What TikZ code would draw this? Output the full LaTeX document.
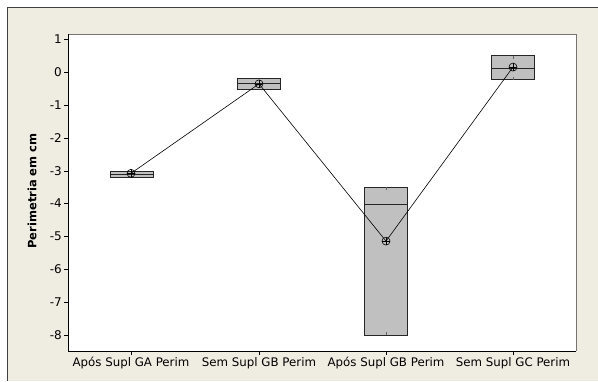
\documentclass[tikz,border=0pt]{standalone}
\usepackage{fontspec}
\setmainfont{DejaVu Sans}
\usepackage{tikz}
\definecolor{framebg}{RGB}{239,236,226}
\definecolor{boxgray}{RGB}{192,192,192}

\begin{document}
\begin{tikzpicture}[x=1pt,y=-1pt,
    boxst/.style={draw=black!85,fill=boxgray,line width=0.8pt},
    meanst/.style={circle,draw,line width=0.6pt,minimum size=8pt,inner sep=0pt,
      path picture={\draw[line width=0.6pt] (path picture bounding box.north) -- (path picture bounding box.south)
        (path picture bounding box.west) -- (path picture bounding box.east);}},
    ylab/.style={anchor=east,font=\fontsize{12}{12}\selectfont,inner sep=1pt},
    xlab/.style={anchor=north,font=\fontsize{11.8}{12}\selectfont,inner sep=1pt}]
         \useasboundingbox (0,0) rectangle (598,381);
         \fill [framebg] (7,7) rectangle (598,381);
         \draw [black!75,line width=1pt] (7,381) -- (7,7) -- (598,7);
         \fill [white] (68,34) rectangle (576,351);
         \draw [black!55,line width=1pt] (68,34) -- (576,34) -- (576,351);
         \draw [line width=0.9pt] (68,34) -- (68,351) -- (576,351);
         % y axis
         \begin{scope}[shift={(0,72)},y=32.9pt]
         \foreach \v [count=\i] in {1,0,-1,-2,-3,-4,-5,-6,-7,-8} {
           \draw (64,\v) -- (68,\v);
           \node [ylab] (T\i) at (63,\v) {\v};
         }
         % boxes
         \draw [boxst] (110,-3.01) rectangle (153,-3.21);
         \draw [black!85] (110,-3.1) -- (153,-3.1);
         \draw [boxst] (237,-0.2) rectangle (280,-0.52);
         \draw [black!85] (237,-0.34) -- (280,-0.34);
         \draw [boxst] (364,-3.5) rectangle (407,-8.0);
         \draw [black!85] (364,-4.01) -- (407,-4.01);
         \draw [boxst] (491,0.49) rectangle (534,-0.24);
         \draw [black!85] (491,0.13) -- (534,0.13);
         \foreach \x/\a/\b in {386/-3.5/-8.0,513/0.49/-0.24} {
           \draw [black!60] (\x,\a) -- ++(0,-3pt);
           \draw [black!60] (\x,\b) -- ++(0,3pt);
         }
         % means
         \node [meanst] (M1) at (131,-3.08) {};
         \node [meanst] (M2) at (259,-0.36) {};
         \node [meanst] (M3) at (386,-5.14) {};
         \node [meanst] (M4) at (513,0.15) {};
         \draw [line width=0.6pt] (M1.center) -- (M2.center) -- (M3.center) -- (M4.center);
         \end{scope}
         % x axis
         \foreach \x/\t [count=\i] in {131/Após Supl GA Perim,259/Sem Supl GB Perim,386/Após Supl GB Perim,513/Sem Supl GC Perim} {
           \draw (\x,351) -- (\x,355);
           \node [xlab] (C\i) at (\x,356) {\t};
         }
         \node [rotate=90,font=\bfseries\fontsize{11.5}{12}\selectfont] (YL) at (32,191) {Perimetria em cm};
\end{tikzpicture}
\end{document}
